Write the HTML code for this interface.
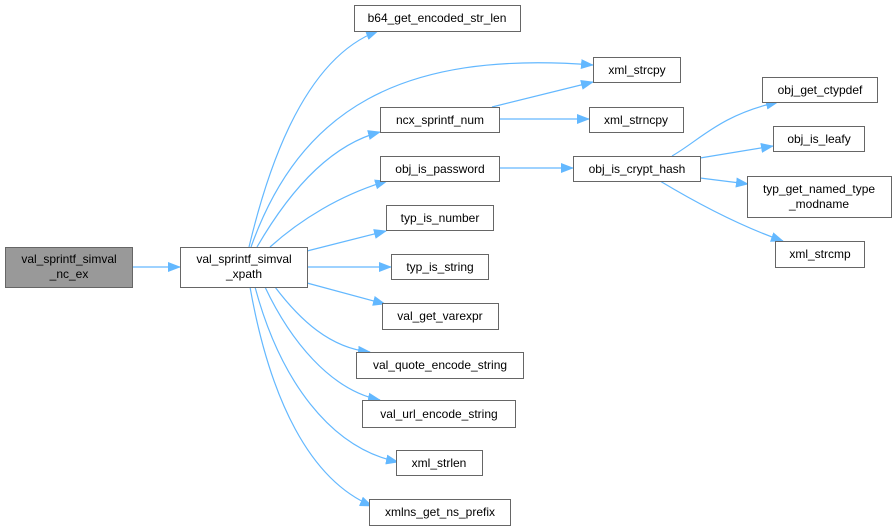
<!DOCTYPE html>
<html><head><meta charset="utf-8"><style>
html,body{margin:0;padding:0;background:#fff;width:896px;height:532px;overflow:hidden}
svg text{font-family:"Liberation Sans",Arial,sans-serif;font-size:12px;fill:#000}
</style></head><body>
<svg width="896" height="532" viewBox="0 0 896 532" xmlns="http://www.w3.org/2000/svg">
<defs>
<marker id="a" markerWidth="13" markerHeight="10" refX="12" refY="5" orient="auto" markerUnits="userSpaceOnUse">
<path d="M0,0 L13,5 L0,10 z" fill="#63b8ff"/></marker>
</defs>
<g fill="none" stroke="#63b8ff" stroke-width="1.2" marker-end="url(#a)">
<path d="M132,267 L180,267"/>
<path d="M249,247 C265,180 300,60 378,31"/>
<path d="M251,247 C300,110 400,50 593,65"/>
<path d="M257,247 C290,190 330,145 380,132"/>
<path d="M270,247 C300,220 340,195 387,181"/>
<path d="M307,251 L386,231"/>
<path d="M307,267 L391,267"/>
<path d="M307,283 L385,304"/>
<path d="M275,287 C300,320 330,348 370,352"/>
<path d="M265,287 C290,340 330,390 380,400"/>
<path d="M255,287 C280,380 330,448 398,462"/>
<path d="M250,287 C270,400 310,480 372,506"/>
<path d="M492,107 L593,82"/>
<path d="M499,119 L589,119"/>
<path d="M499,168 L573,168"/>
<path d="M672,156 C700,140 720,115 778,102"/>
<path d="M700,158 L773,146"/>
<path d="M700,178 L748,184"/>
<path d="M660,181 C700,205 740,226 783,241"/>
</g>
<g stroke="#666" stroke-width="1" fill="#fff">
<rect x="5.5" y="247.5" width="127" height="40" fill="#999"/>
<rect x="180.5" y="247.5" width="127" height="40"/>
<rect x="354.5" y="5.5" width="166" height="26"/>
<rect x="593.5" y="57.5" width="87" height="25"/>
<rect x="380.5" y="107.5" width="119" height="25"/>
<rect x="589.5" y="107.5" width="94" height="25"/>
<rect x="380.5" y="156.5" width="119" height="25"/>
<rect x="573.5" y="156.5" width="127" height="25"/>
<rect x="762.5" y="77.5" width="115" height="25"/>
<rect x="773.5" y="126.5" width="91" height="25"/>
<rect x="747.5" y="176.5" width="144" height="41"/>
<rect x="775.5" y="241.5" width="89" height="26"/>
<rect x="386.5" y="205.5" width="107" height="25"/>
<rect x="391.5" y="254.5" width="97" height="25"/>
<rect x="382.5" y="303.5" width="116" height="26"/>
<rect x="356.5" y="352.5" width="167" height="26"/>
<rect x="362.5" y="400.5" width="153" height="27"/>
<rect x="396.5" y="450.5" width="86" height="25"/>
<rect x="369.5" y="499.5" width="141" height="26"/>
</g>
<g text-anchor="middle">
<text x="69" y="263">val_sprintf_simval</text><text x="69" y="278">_nc_ex</text>
<text x="244" y="263">val_sprintf_simval</text><text x="244" y="278">_xpath</text>
<text x="437" y="22">b64_get_encoded_str_len</text>
<text x="637" y="74">xml_strcpy</text>
<text x="440" y="124">ncx_sprintf_num</text>
<text x="636" y="124">xml_strncpy</text>
<text x="440" y="173">obj_is_password</text>
<text x="637" y="173">obj_is_crypt_hash</text>
<text x="820" y="94">obj_get_ctypdef</text>
<text x="819" y="143">obj_is_leafy</text>
<text x="819" y="193">typ_get_named_type</text><text x="819" y="208">_modname</text>
<text x="820" y="258">xml_strcmp</text>
<text x="440" y="222">typ_is_number</text>
<text x="440" y="271">typ_is_string</text>
<text x="440" y="320">val_get_varexpr</text>
<text x="440" y="369">val_quote_encode_string</text>
<text x="439" y="418">val_url_encode_string</text>
<text x="439" y="467">xml_strlen</text>
<text x="440" y="516">xmlns_get_ns_prefix</text>
</g>
</svg>
</body></html>
